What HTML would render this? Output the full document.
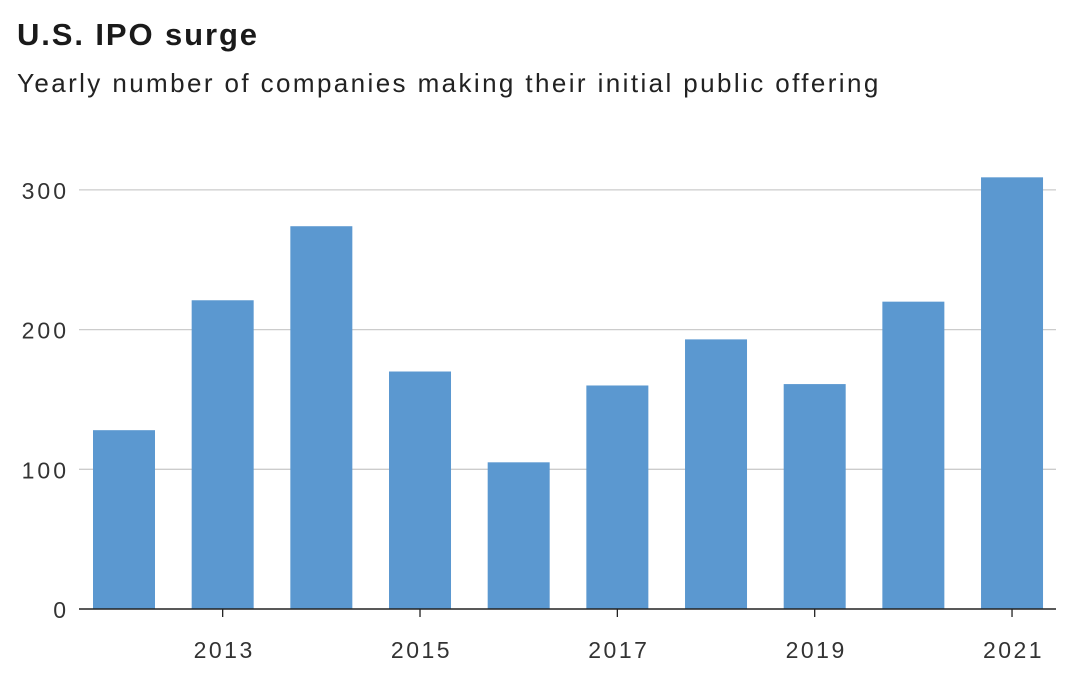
<!DOCTYPE html>
<html><head><meta charset="utf-8"><style>
body{margin:0;width:1070px;height:674px;background:#fff;font-family:"Liberation Sans",sans-serif;overflow:hidden}
#title{position:absolute;left:17px;top:17px;font-size:31px;font-weight:bold;color:#1a1a1a;letter-spacing:1.9px}
#sub{position:absolute;left:17px;top:68px;font-size:26px;color:#222;letter-spacing:2.4px}
svg{position:absolute;left:0;top:0}
</style></head><body>
<div id="title">U.S. IPO surge</div>
<div id="sub">Yearly number of companies making their initial public offering</div>
<svg id="c" width="1070" height="674"></svg>
<script>
const years=[2012,2013,2014,2015,2016,2017,2018,2019,2020,2021];
const counts=[128,221,274,170,105,160,193,161,220,309];
const yTicks=[0,100,200,300];
const xTickYears=[2013,2015,2017,2019,2021];
const NS="http://www.w3.org/2000/svg",svg=document.getElementById('c');
const y0=609,pxPer=1.397,x0=124,step=98.67,bw=62,L=79,R=1056;
const y=v=>y0-v*pxPer, x=yr=>x0+(yr-years[0])*step;
function mk(t,a){const e=document.createElementNS(NS,t);for(const k in a)e.setAttribute(k,a[k]);svg.appendChild(e);return e;}
yTicks.forEach(t=>{
 if(t>0){const g=mk('line',{x1:L,x2:R,y1:y(t),y2:y(t),stroke:'#ccc','stroke-width':1.3});
 
 }
 const l=mk('text',{x:69,y:y(t)+9,'text-anchor':'end','font-size':23,'letter-spacing':3,fill:'#333','font-family':'Liberation Sans, sans-serif'});
 l.textContent=t;
 
 
});
years.forEach((yr,i)=>{
 const b=mk('rect',{x:x(yr)-bw/2,y:y(counts[i]),width:bw,height:counts[i]*pxPer,fill:'#5b98d0'});
 
 
});
const ax=mk('line',{x1:L,x2:R,y1:y0,y2:y0,stroke:'#222','stroke-width':1.5});


xTickYears.forEach(yr=>{
 const tk=mk('line',{x1:x(yr),x2:x(yr),y1:y0,y2:y0+8,stroke:'#222','stroke-width':1.3});
 
 
 const l=mk('text',{x:x(yr)+1.5,y:y0+49,'text-anchor':'middle','font-size':23,'letter-spacing':2.5,fill:'#333','font-family':'Liberation Sans, sans-serif'});
 l.textContent=yr;
 
 
});
</script>
</body></html>
